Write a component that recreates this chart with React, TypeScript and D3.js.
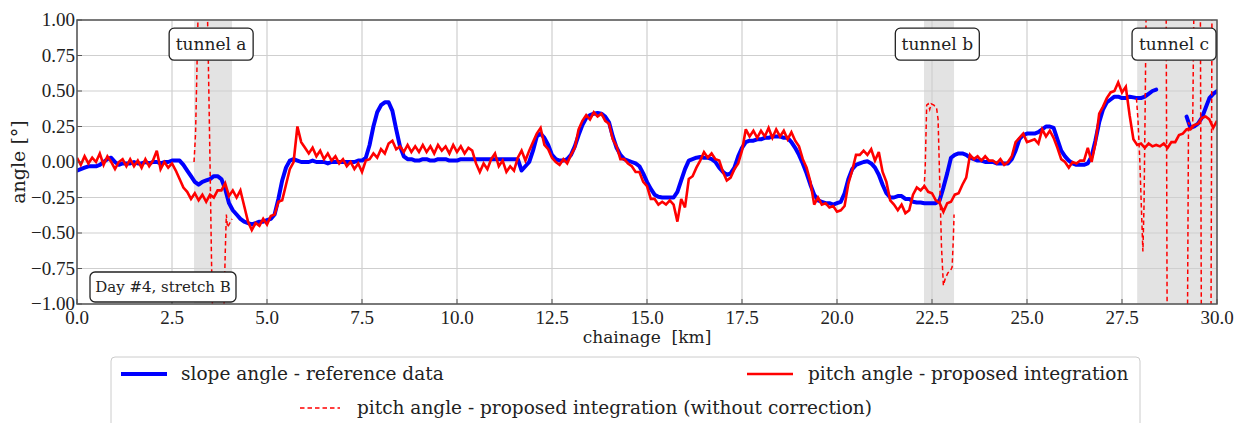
import React from 'react';
import * as d3 from 'd3';

const W = 1244;
const H = 423;
const PLOT = { left: 77, top: 20, right: 1217, bottom: 304 };
const WORD_FONT = 'DejaVu Serif';
const NUM_FONT = 'Liberation Serif';

// chainage step of the sampled series [km]
const KM_STEP = 0.1;

// slope angle - reference data [deg], sampled every 0.1 km from 0.0 to 30.0 (null = no data)
const slopeReference: (number | null)[] = [
  -0.06, -0.05, -0.04, -0.03, -0.03, -0.03, -0.02, 0.00, 0.02, 0.03,
  0.00, -0.02, -0.01, -0.01, -0.01, 0.00, -0.01, -0.01, 0.00, -0.01,
  0.00, 0.00, -0.01, 0.00, 0.00, 0.01, 0.01, 0.01, -0.02, -0.06,
  -0.10, -0.14, -0.16, -0.14, -0.13, -0.12, -0.10, -0.10, -0.12, -0.19,
  -0.29, -0.34, -0.37, -0.40, -0.42, -0.43, -0.44, -0.43, -0.42, -0.42,
  -0.41, -0.40, -0.37, -0.26, -0.13, -0.04, 0.01, 0.02, 0.01, 0.00,
  0.00, 0.00, 0.01, 0.00, 0.00, 0.00, -0.01, 0.00, 0.00, 0.00,
  0.00, 0.00, 0.00, 0.00, 0.01, 0.01, 0.03, 0.12, 0.25, 0.35,
  0.40, 0.42, 0.42, 0.36, 0.23, 0.11, 0.04, 0.02, 0.02, 0.01,
  0.01, 0.02, 0.02, 0.01, 0.01, 0.02, 0.02, 0.02, 0.01, 0.01,
  0.01, 0.02, 0.02, 0.02, 0.02, 0.02, 0.02, 0.02, 0.02, 0.02,
  0.02, 0.02, 0.02, 0.02, 0.02, 0.02, 0.02, -0.06, -0.03, 0.00,
  0.08, 0.18, 0.20, 0.17, 0.12, 0.05, 0.02, 0.01, 0.01, 0.02,
  0.05, 0.11, 0.19, 0.26, 0.31, 0.33, 0.34, 0.345, 0.34, 0.32,
  0.28, 0.18, 0.10, 0.05, 0.02, 0.01, 0.00, -0.01, -0.03, -0.08,
  -0.14, -0.19, -0.23, -0.245, -0.25, -0.25, -0.25, -0.25, -0.21, -0.13,
  -0.05, 0.01, 0.02, 0.03, 0.035, 0.03, 0.03, 0.02, 0.00, -0.04,
  -0.07, -0.09, -0.08, -0.04, 0.04, 0.10, 0.14, 0.15, 0.15, 0.16,
  0.16, 0.17, 0.17, 0.18, 0.18, 0.18, 0.17, 0.17, 0.14, 0.10,
  0.05, -0.01, -0.08, -0.16, -0.23, -0.27, -0.28, -0.29, -0.29, -0.30,
  -0.29, -0.28, -0.22, -0.12, -0.05, -0.02, -0.01, 0.00, 0.005, -0.01,
  -0.04, -0.09, -0.16, -0.22, -0.25, -0.25, -0.24, -0.24, -0.26, -0.26,
  -0.28, -0.285, -0.285, -0.29, -0.29, -0.29, -0.29, -0.27, -0.18, -0.08,
  0.03, 0.05, 0.06, 0.06, 0.05, 0.03, 0.02, 0.01, 0.01, 0.00,
  0.00, 0.00, -0.01, -0.01, -0.01, -0.01, 0.02, 0.08, 0.16, 0.19,
  0.20, 0.20, 0.20, 0.21, 0.23, 0.25, 0.25, 0.24, 0.16, 0.08,
  0.04, 0.01, -0.01, -0.02, -0.02, -0.02, -0.01, 0.04, 0.15, 0.28,
  0.37, 0.42, 0.44, 0.46, 0.46, 0.45, 0.45, 0.46, 0.455, 0.45,
  0.45, 0.46, 0.48, 0.50, 0.51, null, null, null, null, null,
  null, null, 0.32, 0.24, 0.25, 0.27, 0.31, 0.38, 0.45, 0.48,
  0.50,
];

// pitch angle - proposed integration [deg], sampled every 0.1 km from 0.0 to 30.0
const pitchIntegration: number[] = [
  0.03, -0.02, 0.04, -0.01, 0.03, 0.00, 0.06, -0.02, 0.04, 0.00,
  -0.05, 0.00, 0.02, -0.03, 0.02, -0.03, 0.01, -0.04, 0.02, -0.03,
  0.01, 0.08, -0.05, 0.00, -0.04, -0.01, -0.06, -0.12, -0.18, -0.21,
  -0.26, -0.22, -0.27, -0.23, -0.28, -0.23, -0.25, -0.20, -0.20, -0.15,
  -0.24, -0.20, -0.25, -0.20, -0.31, -0.42, -0.48, -0.43, -0.45, -0.40,
  -0.44, -0.38, -0.37, -0.28, -0.27, -0.16, -0.05, 0.00, 0.25, 0.14,
  0.10, 0.06, 0.10, 0.04, 0.08, 0.02, 0.06, 0.01, 0.04, -0.01,
  0.02, -0.03, 0.00, -0.05, -0.01, -0.07, 0.01, 0.02, 0.06, 0.03,
  0.09, 0.06, 0.13, 0.15, 0.09, 0.11, 0.07, 0.12, 0.07, 0.11,
  0.07, 0.12, 0.07, 0.11, 0.06, 0.12, 0.08, 0.11, 0.06, 0.12,
  0.07, 0.11, 0.06, 0.10, 0.08, -0.01, -0.07, -0.01, -0.05, 0.02,
  0.06, -0.03, 0.01, -0.07, -0.03, -0.06, 0.03, 0.08, 0.01, 0.08,
  0.14, 0.20, 0.24, 0.12, 0.09, 0.03, 0.00, -0.02, 0.02, -0.01,
  0.05, 0.10, 0.23, 0.29, 0.33, 0.30, 0.35, 0.32, 0.34, 0.29,
  0.27, 0.16, 0.11, 0.02, 0.02, -0.01, -0.03, -0.07, -0.07, -0.14,
  -0.17, -0.26, -0.26, -0.30, -0.28, -0.30, -0.27, -0.30, -0.42, -0.26,
  -0.32, -0.12, -0.10, -0.04, 0.01, 0.07, 0.03, 0.06, 0.02, 0.01,
  -0.07, -0.13, -0.11, -0.05, -0.01, 0.08, 0.23, 0.18, 0.22, 0.17,
  0.22, 0.18, 0.24, 0.17, 0.23, 0.18, 0.22, 0.16, 0.21, 0.15,
  0.11, 0.02, -0.04, -0.14, -0.30, -0.25, -0.30, -0.29, -0.32, -0.31,
  -0.35, -0.34, -0.31, -0.15, -0.06, 0.05, 0.05, 0.08, 0.05, 0.09,
  0.01, 0.07, -0.07, -0.14, -0.27, -0.30, -0.34, -0.30, -0.36, -0.34,
  -0.23, -0.18, -0.20, -0.17, -0.21, -0.22, -0.27, -0.29, -0.35, -0.29,
  -0.28, -0.23, -0.22, -0.16, -0.11, 0.05, 0.02, 0.04, 0.01, 0.04,
  0.01, 0.01, -0.01, 0.02, -0.02, 0.00, 0.04, 0.14, 0.17, 0.20,
  0.14, 0.15, 0.16, 0.13, 0.23, 0.18, 0.22, 0.17, 0.10, 0.02,
  0.00, -0.04, 0.00, -0.01, 0.01, 0.01, 0.10, 0.00, 0.13, 0.34,
  0.39, 0.45, 0.49, 0.50, 0.56, 0.49, 0.53, 0.33, 0.16, 0.12,
  0.13, 0.10, 0.13, 0.11, 0.12, 0.11, 0.13, 0.10, 0.14, 0.14,
  0.19, 0.20, 0.23, 0.23, 0.26, 0.27, 0.31, 0.32, 0.30, 0.24,
  0.29,
];

// pitch angle without correction, inside the tunnels: chainage [km] and angle [deg]
const uncorrectedKmA = [3.08, 3.12, 3.16, 3.19, 3.25, 3.35, 3.43, 3.46, 3.5, 3.54, 3.57, 3.6, 3.84, 3.87, 3.9, 3.93, 3.96, 4.02, 4.08];
const uncorrectedValA = [0.0, 0.2, 0.7, 1.1, 1.2, 1.15, 1.1, 0.65, 0.0, -0.7, -1.1, -1.3, -1.3, -1.0, -0.65, -0.37, -0.46, -0.43, -0.40];
const uncorrectedKmB = [22.29, 22.32, 22.36, 22.4, 22.44, 22.48, 22.55, 22.62, 22.66, 22.7, 22.75, 22.8, 22.85, 22.92, 22.98, 23.03, 23.06, 23.08];
const uncorrectedValB = [-0.19, -0.05, 0.40, 0.41, 0.37, 0.41, 0.40, 0.38, 0.30, -0.1, -0.6, -0.87, -0.82, -0.78, -0.77, -0.74, -0.55, -0.37];
const uncorrectedKmC = [27.88, 27.92, 27.97, 28.02, 28.05, 28.08, 28.11, 28.14, 28.4, 28.66, 28.69, 29.0, 29.22, 29.25, 29.3, 29.36, 29.4, 29.56, 29.59, 29.84, 29.87, 30.0];
const uncorrectedValC = [0.45, 0.3, 0.0, -0.4, -0.63, -0.3, 0.4, 1.2, 1.4, 1.3, -1.3, -1.4, -1.3, 0.28, 0.24, 0.26, 1.3, 1.3, -1.3, -1.3, 1.3, 1.3];

// tunnels [km]
const tunnelNames = ['tunnel a', 'tunnel b', 'tunnel c'];
const tunnelStart = [3.08, 22.29, 27.9];
const tunnelEnd = [4.08, 23.08, 30.0];
const tunnelLabelKm = [3.53, 22.64, 28.87];

const xTicks = [0, 2.5, 5, 7.5, 10, 12.5, 15, 17.5, 20, 22.5, 25, 27.5, 30];
const yTicks = [-1, -0.75, -0.5, -0.25, 0, 0.25, 0.5, 0.75, 1];

const legendLabels = [
  'slope angle - reference data',
  'pitch angle - proposed integration',
  'pitch angle - proposed integration (without correction)',
];

const fmtY = (v: number) => (v < 0 ? '\u2212' : '') + Math.abs(v).toFixed(2);

const word = (size: number) => ({ fontFamily: WORD_FONT, fontSize: size });
const num = (size: number) => ({ fontFamily: NUM_FONT, fontSize: size });

export default function App() {
  const x = d3.scaleLinear().domain([0, 30]).range([PLOT.left, PLOT.right]);
  const y = d3.scaleLinear().domain([-1, 1]).range([PLOT.bottom, PLOT.top]);

  const seriesLine = d3
    .line<number | null>()
    .defined((d) => d != null)
    .x((_, i) => x(i * KM_STEP))
    .y((d) => y(d as number));

  const pairLine = d3
    .line<[number, number]>()
    .x((d) => x(d[0]))
    .y((d) => y(d[1]));

  const segs = [
    [uncorrectedKmA, uncorrectedValA],
    [uncorrectedKmB, uncorrectedValB],
    [uncorrectedKmC, uncorrectedValC],
  ].map(([k, v]) => k.map((kk, i) => [kk, v[i]] as [number, number]));

  const plotW = PLOT.right - PLOT.left;
  const plotH = PLOT.bottom - PLOT.top;

  return (
    <svg width={W} height={H} style={{ position: 'absolute', left: 0, top: 0, background: '#fff' }}>
      <defs>
        <clipPath id="plotClip">
          <rect x={PLOT.left} y={PLOT.top} width={plotW} height={plotH} />
        </clipPath>
      </defs>
      <rect x={0} y={0} width={W} height={H} fill="#fff" />

      {/* tunnel shading */}
      {tunnelStart.map((s, i) => (
        <rect key={'sh' + i} x={x(s)} y={PLOT.top} width={x(tunnelEnd[i]) - x(s)} height={plotH} fill="#e3e3e3" />
      ))}

      {/* grid */}
      {xTicks.map((t) => (
        <line key={'gx' + t} x1={x(t)} x2={x(t)} y1={PLOT.top} y2={PLOT.bottom} stroke="#cfcfcf" strokeWidth={1.2} />
      ))}
      {yTicks.map((t) => (
        <line key={'gy' + t} x1={PLOT.left} x2={PLOT.right} y1={y(t)} y2={y(t)} stroke="#cfcfcf" strokeWidth={1.2} />
      ))}

      {/* series */}
      <g clipPath="url(#plotClip)">
        <path d={seriesLine(slopeReference) || ''} fill="none" stroke="#0000ff" strokeWidth={4} strokeLinejoin="round" strokeLinecap="round" />
        <path d={seriesLine(pitchIntegration) || ''} fill="none" stroke="#ff0000" strokeWidth={2.6} strokeLinejoin="miter" strokeMiterlimit={3} />
        {segs.map((s, i) => (
          <path key={'ds' + i} d={pairLine(s) || ''} fill="none" stroke="#ff0000" strokeWidth={1.5} strokeDasharray="4.5,3" />
        ))}
      </g>

      {/* frame */}
      <rect x={PLOT.left} y={PLOT.top} width={plotW} height={plotH} fill="none" stroke="#555" strokeWidth={1.5} />

      {/* ticks */}
      {yTicks.map((t) => (
        <g key={'ty' + t}>
          <line x1={PLOT.left} x2={PLOT.left + 5} y1={y(t)} y2={y(t)} stroke="#555" strokeWidth={1} />
          <text x={PLOT.left - 2} y={y(t)} dy="0.33em" textAnchor="end" style={num(19)} fill="#222">
            {fmtY(t)}
          </text>
        </g>
      ))}
      {xTicks.map((t) => (
        <g key={'tx' + t}>
          <line x1={x(t)} x2={x(t)} y1={PLOT.bottom} y2={PLOT.bottom - 5} stroke="#555" strokeWidth={1} />
          <text x={x(t)} y={PLOT.bottom + 20} textAnchor="middle" style={num(19)} fill="#222">
            {t.toFixed(1)}
          </text>
        </g>
      ))}

      {/* axis labels */}
      <text x={(PLOT.left + PLOT.right) / 2} y={343} textAnchor="middle" style={word(17)} fill="#222">
        chainage{'\u00a0\u00a0'}[km]
      </text>
      <text transform={`translate(25, ${(PLOT.top + PLOT.bottom) / 2}) rotate(-90)`} textAnchor="middle" style={word(19)} fill="#222">
        angle [°]
      </text>

      {/* tunnel labels */}
      {tunnelNames.map((n, i) => {
        const cx = x(tunnelLabelKm[i]);
        const cy = y(0.83);
        return (
          <g key={'tl' + i}>
            <rect x={cx - 42} y={cy - 16} width={84} height={32} rx={5} fill="#fff" stroke="#222" strokeWidth={1.3} />
            <text x={cx} y={cy} dy="0.35em" textAnchor="middle" style={word(17)} fill="#222">
              {n}
            </text>
          </g>
        );
      })}

      {/* day annotation */}
      <g>
        <rect x={90} y={272} width={146} height={30} rx={5} fill="#fff" stroke="#222" strokeWidth={1.3} />
        <text x={163} y={287} dy="0.35em" textAnchor="middle" style={word(15)} fill="#222">
          Day #4, stretch B
        </text>
      </g>

      {/* legend */}
      <g>
        <rect x={111} y={357} width={1029} height={90} rx={4} fill="#fff" stroke="#cccccc" strokeWidth={1} />
        <line x1={121} x2={167} y1={374} y2={374} stroke="#0000ff" strokeWidth={4} />
        <text x={181} y={374} dy="0.35em" style={word(18.5)} fill="#222">{legendLabels[0]}</text>
        <line x1={747} x2={793} y1={374} y2={374} stroke="#ff0000" strokeWidth={2.5} />
        <text x={808} y={374} dy="0.35em" style={word(18.5)} fill="#222">{legendLabels[1]}</text>
        <line x1={300} x2={340} y1={408} y2={408} stroke="#ff0000" strokeWidth={1.5} strokeDasharray="4.5,3" />
        <text x={357} y={408} dy="0.35em" style={word(18.5)} fill="#222">{legendLabels[2]}</text>
      </g>
    </svg>
  );
}
